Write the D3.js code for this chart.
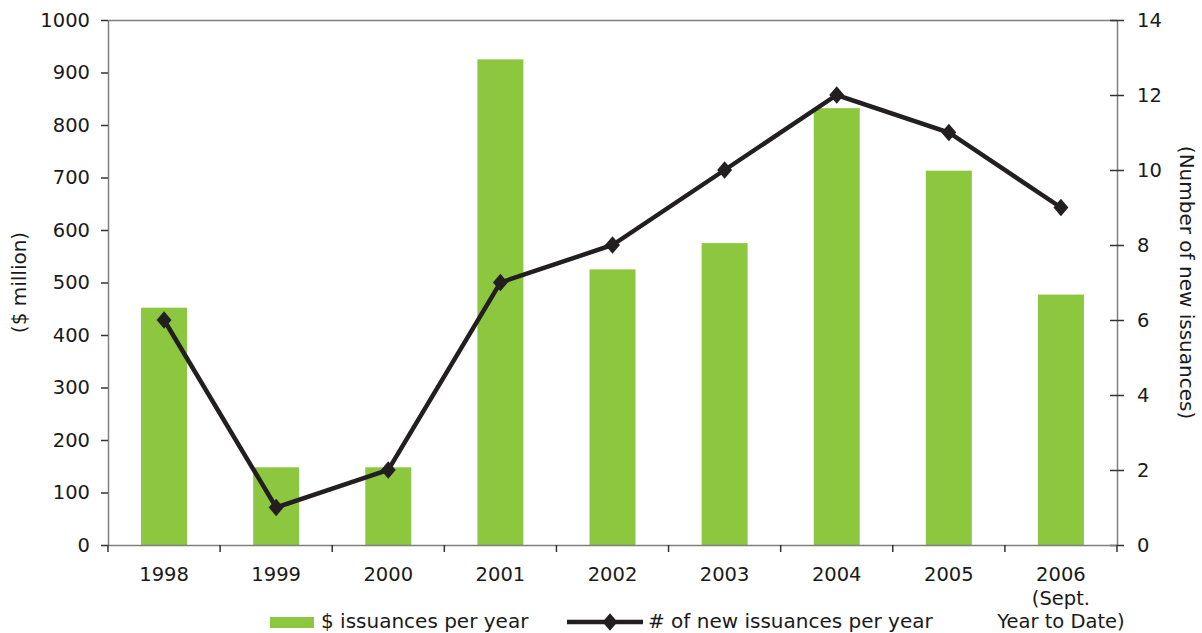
<!DOCTYPE html>
<html><head><meta charset="utf-8">
<script src="https://cdn.jsdelivr.net/npm/d3@7"></script>
<style>body{margin:0;background:#fff}svg{display:block}</style>
</head><body><svg id="c" width="1202" height="633"></svg>
<script>
const categories = ["1998","1999","2000","2001","2002","2003","2004","2005","2006"];
const categoryLabels = [["1998"],["1999"],["2000"],["2001"],["2002"],["2003"],["2004"],["2005"],["2006","(Sept.","Year to Date)"]];
const dollarIssuances = [452, 148, 148, 925, 525, 575, 832, 713, 477];
const newIssuances = [6, 1, 2, 7, 8, 10, 12, 11, 9];
const leftTicks = [0,100,200,300,400,500,600,700,800,900,1000];
const rightTicks = [0,2,4,6,8,10,12,14];

const FONT = "'DejaVu Sans', Verdana, sans-serif";
const svg = d3.select("#c");
const L = 108, R = 1117, T = 20, B = 545;
const fs = 19.5, fsT = 20;
const x = d3.scaleBand().domain(categories).range([L, R]).paddingInner(0).paddingOuter(0);
const yL = d3.scaleLinear().domain([0,1000]).range([B, T]);
const yR = d3.scaleLinear().domain([0,14]).range([B, T]);
const axisColor = "#7f7f7f";

svg.append("line").attr("x1",L).attr("x2",R).attr("y1",T+0.5).attr("y2",T+0.5).attr("stroke",axisColor).attr("stroke-width",1.5);

const bw = 46;
svg.selectAll("rect.bar").data(dollarIssuances).join("rect")
  .attr("x",(d,i)=>x(categories[i])+x.bandwidth()/2-bw/2)
  .attr("width",bw)
  .attr("y",d=>yL(d)).attr("height",d=>B-yL(d))
  .attr("fill","#8dc63f");

const gl = svg.append("g").attr("transform",`translate(${L},0)`)
  .call(d3.axisLeft(yL).tickValues(leftTicks).tickFormat(d3.format("d")).tickSize(7).tickPadding(11));
const gr = svg.append("g").attr("transform",`translate(${R},0)`)
  .call(d3.axisRight(yR).tickValues(rightTicks).tickFormat(d3.format("d")).tickSize(7).tickPadding(13));
gr.selectAll(".tick line").attr("x1",-7);
const gb = svg.append("g").attr("transform",`translate(0,${B})`)
  .call(d3.axisBottom(x).tickSize(0).tickFormat(""));
const bTicks = categories.map(c=>x(c)).concat([R]);
gb.selectAll("line.bt").data(bTicks).join("line").attr("class","bt")
  .attr("x1",d=>d).attr("x2",d=>d).attr("y1",0).attr("y2",7).attr("stroke","#333").attr("stroke-width",1.5);

[gl,gr,gb].forEach(g=>{
  g.attr("font-family",null).attr("font-size",null);
  g.select(".domain").attr("stroke",axisColor).attr("stroke-width",1.5);
  g.selectAll(".tick line").attr("stroke","#333").attr("stroke-width",1.5);
  g.selectAll(".tick text").style("font-size",fs+"px").style("font-family",FONT).attr("fill","#1a1a1a");
});
gl.select(".domain").attr("d",`M0.5,${T}V${B}`);
gr.select(".domain").attr("d",`M0.5,${T}V${B}`);

function txt(sel, s){ return sel.style("font-size",(s||fs)+"px").style("font-family",FONT).attr("fill","#1a1a1a"); }

categoryLabels.forEach((lines,i)=>{
  const cx = x(categories[i])+x.bandwidth()/2;
  lines.forEach((t,j)=>{
    txt(svg.append("text").attr("x",cx).attr("y",B+36+j*23.5).attr("text-anchor","middle")).text(t);
  });
});

const line = d3.line().x((d,i)=>x(categories[i])+x.bandwidth()/2).y(d=>yR(d));
svg.append("path").datum(newIssuances).attr("d",line).attr("fill","none")
  .attr("stroke","#231f20").attr("stroke-width",4.5).attr("stroke-linejoin","miter");
const sym = d3.symbol().type(d3.symbolDiamond).size(86);
svg.selectAll("path.mk").data(newIssuances).join("path").attr("class","mk")
  .attr("d",sym)
  .attr("transform",(d,i)=>`translate(${x(categories[i])+x.bandwidth()/2},${yR(d)}) scale(1.5,1)`)
  .attr("fill","#231f20");

txt(svg.append("text").attr("transform",`translate(26,${(T+B)/2}) rotate(-90)`).attr("text-anchor","middle"), fsT).text("($ million)");
txt(svg.append("text").attr("transform",`translate(1180,${(T+B)/2}) rotate(90)`).attr("text-anchor","middle"), fsT).text("(Number of new issuances)");

const ly = 622;
svg.append("rect").attr("x",270).attr("y",617).attr("width",44).attr("height",11).attr("fill","#8dc63f");
txt(svg.append("text").attr("x",321).attr("y",628), fsT).text("$ issuances per year");
svg.append("line").attr("x1",567).attr("x2",643).attr("y1",ly).attr("y2",ly).attr("stroke","#231f20").attr("stroke-width",4.5);
svg.append("path").attr("d",sym).attr("transform",`translate(610,${ly}) scale(1.5,1)`).attr("fill","#231f20");
txt(svg.append("text").attr("x",648).attr("y",628), fsT).text("# of new issuances per year");
</script></body></html>
